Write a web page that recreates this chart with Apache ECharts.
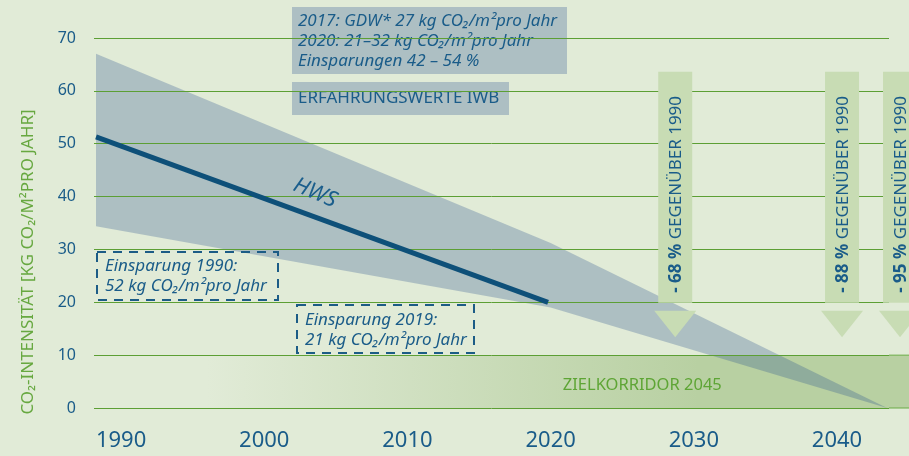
<!DOCTYPE html>
<html>
<head>
<meta charset="utf-8">
<script src="https://cdn.jsdelivr.net/npm/echarts@6/dist/echarts.min.js"></script>
<style>html,body{margin:0;padding:0;background:#e1ebd7;}#c{width:909px;height:456px;}</style>
</head>
<body>
<div id="c"></div>
<script>
// ---- data ----
const xTickYears = [1990, 2000, 2010, 2020, 2030, 2040];
const hwsYears = [1988.25, 2019.82];
const hwsValues = [51.3, 20.0];
const bandYears = [1988.25, 2020.0, 2043.5];
const bandUpper = [67.0, 31.2, 0];
const bandLower = [34.4, 19.0, 0];
const arrowYears = [2028.7, 2040.35, 2044.4];
const arrowReductions = ['- 68 %', '- 88 %', '- 95 %'];
const arrowSuffix = 'GEGENÜBER 1990';
const corridorRange = [0, 10];
const corridorStartYear = 1996;
const corridorLabel = 'ZIELKORRIDOR 2045';
const infoLines = ['2017: GDW* 27 kg CO₂/m²pro Jahr', '2020: 21–32 kg CO₂/m²pro Jahr', 'Einsparungen 42 – 54 %'];
const infoTitle = 'ERFAHRUNGSWERTE IWB';
const saving1990 = ['Einsparung 1990:', '52 kg CO₂/m²pro Jahr'];
const saving2019 = ['Einsparung 2019:', '21 kg CO₂/m²pro Jahr'];
const yTitle = 'CO₂-INTENSITÄT [KG CO₂/M²PRO JAHR]';

const FONT = 'Noto Sans';
const BLUE = '#1a5c89';
const GREEN = '#5c9f34';

const chart = echarts.init(document.getElementById('c'));

function txt(x, y, text, opt) {
  return {
    type: 'text', x: x, y: y, z: 3,
    style: Object.assign({text: text, fill: BLUE, font: 'italic 17px "' + FONT + '"', align: 'left', verticalAlign: 'middle'}, opt || {})
  };
}

const option = {
  backgroundColor: '#e1ebd7',
  animation: false,
  grid: {left: 94, right: 20, top: 38, bottom: 48},
  xAxis: {
    type: 'value', min: 1988.11, max: 2043.63,
    axisLine: {show: false}, axisTick: {show: false}, splitLine: {show: false},
    axisLabel: {customValues: xTickYears, formatter: v => String(v), color: BLUE, fontSize: 22, fontFamily: FONT, margin: 22}
  },
  yAxis: {
    type: 'value', min: 0, max: 70, interval: 10, z: 5,
    axisLine: {show: false}, axisTick: {show: false},
    axisLabel: {color: BLUE, fontSize: 16, fontFamily: FONT, margin: 18},
    splitLine: {lineStyle: {color: GREEN, width: 1}}
  },
  series: [
    {
      type: 'custom', z: 1, clip: false, silent: true,
      data: [[corridorStartYear, corridorRange[1]]],
      renderItem: function (params, api) {
        const p0 = api.coord([corridorStartYear, corridorRange[1]]);
        const p1 = api.coord([2043.63, corridorRange[0]]);
        const W = api.getWidth();
        const lc = api.coord([2026.4, 4.3]);
        return {type: 'group', children: [
          {type: 'rect', shape: {x: p0[0], y: p0[1], width: W - p0[0], height: p1[1] - p0[1]},
           style: {fill: new echarts.graphic.LinearGradient(0, 0, 1, 0, [
             {offset: 0, color: 'rgba(184,208,162,0)'},
             {offset: 0.7, color: 'rgba(184,208,162,1)'},
             {offset: 1, color: 'rgba(184,208,162,1)'}])}},
          {type: 'line', shape: {x1: p1[0], y1: p0[1], x2: W, y2: p0[1]}, style: {stroke: '#6aab46', lineWidth: 1}},
          {type: 'line', shape: {x1: p1[0], y1: p1[1], x2: W, y2: p1[1]}, style: {stroke: '#6aab46', lineWidth: 1}},
          {type: 'text', x: lc[0], y: lc[1], z2: 10, style: {text: corridorLabel, fill: '#5ea535', font: '16.5px "' + FONT + '"', align: 'center', verticalAlign: 'middle'}}
        ]};
      }
    },
    {
      type: 'custom', z: 2, clip: false, silent: true,
      data: [[bandYears[0], bandUpper[0]]],
      renderItem: function (params, api) {
        const pts = [];
        for (let i = 0; i < bandYears.length; i++) pts.push(api.coord([bandYears[i], bandUpper[i]]));
        for (let i = bandYears.length - 1; i >= 0; i--) pts.push(api.coord([bandYears[i], bandLower[i]]));
        return {type: 'polygon', shape: {points: pts}, style: {fill: 'rgba(39,79,141,0.28)'}};
      }
    },
    {
      type: 'line', z: 6, silent: true, showSymbol: false,
      data: hwsYears.map((y, i) => [y, hwsValues[i]]),
      lineStyle: {color: '#0e5079', width: 5, cap: 'butt'}
    },
    {
      type: 'custom', z: 7, clip: false, silent: true,
      data: arrowYears.map((y, i) => [y, i]),
      renderItem: function (params, api) {
        const yr = api.value(0);
        const top = api.coord([yr, 63.6]);
        const bot = api.coord([yr, 19.9]);
        const triTop = api.coord([yr, 18.4]);
        const tip = api.coord([yr, 13.4]);
        const cx = top[0];
        return {type: 'group', children: [
          {type: 'rect', shape: {x: cx - 17, y: top[1], width: 34, height: bot[1] - top[1]}, style: {fill: '#c8dcb4'}},
          {type: 'polygon', shape: {points: [[cx - 21, triTop[1]], [cx + 21, triTop[1]], [cx, tip[1]]]}, style: {fill: '#c8dcb4'}},
          {type: 'text', x: cx + 1, y: bot[1] - 10, rotation: Math.PI / 2, z2: 10,
           style: {text: '{b|' + arrowReductions[params.dataIndex] + '} ' + arrowSuffix,
             fill: BLUE, font: '17px "' + FONT + '"', align: 'left', verticalAlign: 'middle',
             rich: {b: {fontWeight: 'bold', fontSize: 17, fontFamily: FONT, fill: BLUE, color: BLUE}}}}
        ]};
      }
    }
  ],
  graphic: [
    {type: 'rect', z: 3, shape: {x: 292, y: 7, width: 275, height: 67}, style: {fill: '#adbfc3'}},
    txt(298, 21, infoLines[0]),
    txt(298, 41, infoLines[1]),
    txt(298, 61, infoLines[2]),
    {type: 'rect', z: 3, shape: {x: 292, y: 82, width: 217, height: 33}, style: {fill: '#adbfc3'}},
    txt(298, 98, infoTitle, {font: '17px "' + FONT + '"'}),
    {type: 'rect', z: 6, shape: {x: 97, y: 252, width: 181, height: 48}, style: {fill: null, stroke: '#1c5c86', lineWidth: 2, lineDash: [9, 7]}},
    txt(105, 266, saving1990[0]), txt(105, 286.5, saving1990[1]),
    {type: 'rect', z: 6, shape: {x: 297, y: 305, width: 177, height: 48}, style: {fill: null, stroke: '#1c5c86', lineWidth: 2, lineDash: [9, 7]}},
    txt(305, 320, saving2019[0]), txt(305, 340, saving2019[1]),
    {type: 'text', z: 8, x: 315, y: 193, rotation: -0.4, style: {text: 'HWS', fill: '#1b5e8c', font: 'italic 22px "' + FONT + '"', align: 'center', verticalAlign: 'middle'}},
    {type: 'text', z: 8, x: 28, y: 262, rotation: Math.PI / 2, style: {text: yTitle, fill: '#67a840', font: '17px "' + FONT + '"', align: 'center', verticalAlign: 'middle'}}
  ]
};
chart.setOption(option);
</script>
</body>
</html>
